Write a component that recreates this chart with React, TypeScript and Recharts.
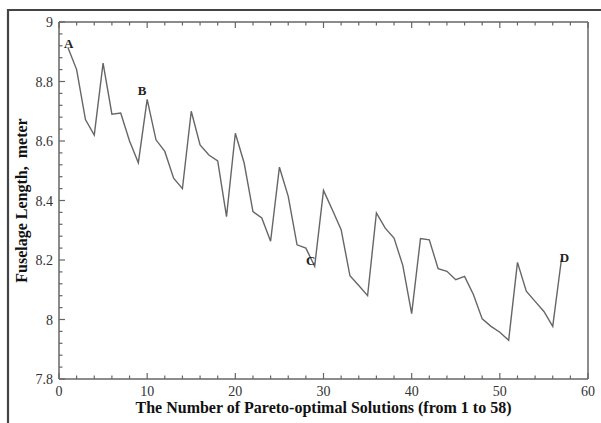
import React from 'react';
import { LineChart, Line, XAxis, YAxis, ReferenceDot } from 'recharts';

// solution number runs 1..57 along the x axis
const fuselageLength = [
  8.915, 8.84, 8.672, 8.62, 8.862, 8.69, 8.694, 8.6, 8.527, 8.74,
  8.604, 8.565, 8.475, 8.44, 8.7, 8.587, 8.553, 8.533, 8.346, 8.626,
  8.526, 8.363, 8.341, 8.263, 8.512, 8.414, 8.251, 8.24, 8.179, 8.434,
  8.369, 8.302, 8.147, 8.114, 8.08, 8.358, 8.307, 8.274, 8.181, 8.02,
  8.272, 8.268, 8.171, 8.162, 8.134, 8.145, 8.084, 8.002, 7.977, 7.957,
  7.93, 8.192, 8.095, 8.061, 8.027, 7.977, 8.205,
];

const xTickLabels = [0, 10, 20, 30, 40, 50, 60];
const yTickLabels = [7.8, 8, 8.2, 8.4, 8.6, 8.8, 9];

const markedPoints = [
  { n: 1, tag: 'A' },
  { n: 10, tag: 'B' },
  { n: 29, tag: 'C' },
  { n: 57, tag: 'D' },
];

const data = fuselageLength.map((v, i) => ({ n: i + 1, len: v }));

// minor ticks every 2 on x, every 0.04 on y
const xTicks = Array.from({ length: 31 }, (_, i) => i * 2);
const yTicks = Array.from({ length: 31 }, (_, i) => Math.round((7.8 + i * 0.04) * 100) / 100);

const tagOffset: Record<string, [number, number]> = {
  A: [1, 1],
  B: [-5, -4],
  C: [-4, -1],
  D: [3, 3],
};

const AXIS = '#666';
const SERIF = '"Liberation Serif", "Times New Roman", serif';

const isMajorX = (v: number) => xTickLabels.some((m) => Math.abs(m - v) < 1e-6);
const isMajorY = (v: number) => yTickLabels.some((m) => Math.abs(m - v) < 1e-6);
const fmtY = (v: number) => String(Math.round(v * 10) / 10);

function BottomTick({ x, y, payload }: any) {
  const major = isMajorX(payload.value);
  return (
    <g>
      <line x1={x} y1={y} x2={x} y2={y - (major ? 6 : 3.5)} stroke={AXIS} strokeWidth={1.2} />
      {major && (
        <text x={x} y={y + 17} textAnchor="middle" fontFamily={SERIF} fontSize={14} fill="#333">
          {payload.value}
        </text>
      )}
    </g>
  );
}

function TopTick({ x, y, payload }: any) {
  const major = isMajorX(payload.value);
  return <line x1={x} y1={y} x2={x} y2={y + (major ? 6 : 3.5)} stroke={AXIS} strokeWidth={1.2} />;
}

function LeftTick({ x, y, payload }: any) {
  const major = isMajorY(payload.value);
  return (
    <g>
      <line x1={x} y1={y} x2={x + (major ? 6 : 3.5)} y2={y} stroke={AXIS} strokeWidth={1.2} />
      {major && (
        <text x={x - 6} y={y + 5} textAnchor="end" fontFamily={SERIF} fontSize={14} fill="#333">
          {fmtY(payload.value)}
        </text>
      )}
    </g>
  );
}

function RightTick({ x, y, payload }: any) {
  const major = isMajorY(payload.value);
  return <line x1={x} y1={y} x2={x - (major ? 6 : 3.5)} y2={y} stroke={AXIS} strokeWidth={1.2} />;
}

function XTitle({ viewBox }: any) {
  const { x, y, width } = viewBox;
  return (
    <text x={x + width / 2} y={y + 34} textAnchor="middle" fontFamily={SERIF} fontWeight="bold" fontSize={16} fill="#111">
      The Number of Pareto-optimal Solutions (from 1 to 58)
    </text>
  );
}

function YTitle({ viewBox }: any) {
  const { y, height } = viewBox;
  const cx = 27;
  const cy = y + height / 2;
  return (
    <text
      x={cx}
      y={cy}
      transform={`rotate(-90 ${cx} ${cy})`}
      textAnchor="middle"
      fontFamily={SERIF}
      fontWeight="bold"
      fontSize={16}
      fill="#111"
      style={{ whiteSpace: 'pre' }}
    >
      {'Fuselage Length,  meter'}
    </text>
  );
}

function TagShape(tag: string) {
  return ({ cx, cy }: any) => {
    const [dx, dy] = tagOffset[tag];
    return (
      <text x={cx + dx} y={cy + dy} textAnchor="middle" fontFamily={SERIF} fontWeight="bold" fontSize={13} fill="#222">
        {tag}
      </text>
    );
  };
}

export default function App() {
  return (
    <div style={{ position: 'absolute', left: 0, top: 0, width: 601, height: 423, overflow: 'hidden', background: '#fff' }}>
      <LineChart width={601} height={423} data={data} margin={{ top: 21, right: 12, bottom: 0, left: 0 }}>
        <XAxis
          dataKey="n"
          type="number"
          domain={[0, 60]}
          ticks={xTicks}
          interval={0}
          height={44}
          tickSize={0}
          tickMargin={0}
          tickLine={false}
          axisLine={{ stroke: AXIS, strokeWidth: 1.5 }}
          tick={<BottomTick />}
          label={<XTitle />}
        />
        <XAxis
          xAxisId="top"
          orientation="top"
          dataKey="n"
          type="number"
          domain={[0, 60]}
          ticks={xTicks}
          interval={0}
          height={1}
          tickSize={0}
          tickMargin={0}
          tickLine={false}
          axisLine={{ stroke: AXIS, strokeWidth: 1.5 }}
          tick={<TopTick />}
        />
        <YAxis
          type="number"
          domain={[7.8, 9]}
          ticks={yTicks}
          interval={0}
          width={59}
          tickSize={0}
          tickMargin={0}
          tickLine={false}
          allowDataOverflow
          axisLine={{ stroke: AXIS, strokeWidth: 1.5 }}
          tick={<LeftTick />}
          label={<YTitle />}
        />
        <YAxis
          yAxisId="right"
          orientation="right"
          type="number"
          domain={[7.8, 9]}
          ticks={yTicks}
          interval={0}
          width={1}
          tickSize={0}
          tickMargin={0}
          tickLine={false}
          axisLine={{ stroke: AXIS, strokeWidth: 1.5 }}
          tick={<RightTick />}
        />
        <Line
          type="linear"
          dataKey="len"
          stroke="#666"
          strokeWidth={1.4}
          dot={false}
          activeDot={false}
          isAnimationActive={false}
        />
        {markedPoints.map((m) => (
          <ReferenceDot
            key={m.tag}
            x={m.n}
            y={fuselageLength[m.n - 1]}
            r={0}
            shape={TagShape(m.tag)}
          />
        ))}
      </LineChart>
      {/* outer figure frame, cut off at the bottom and right like the scan */}
      <svg
        width={601}
        height={423}
        style={{ position: 'absolute', left: 0, top: 0, zIndex: 10, pointerEvents: 'none' }}
      >
        <path d="M8 423 V10 H601" fill="none" stroke="#444" strokeWidth={2.2} />
      </svg>
    </div>
  );
}
